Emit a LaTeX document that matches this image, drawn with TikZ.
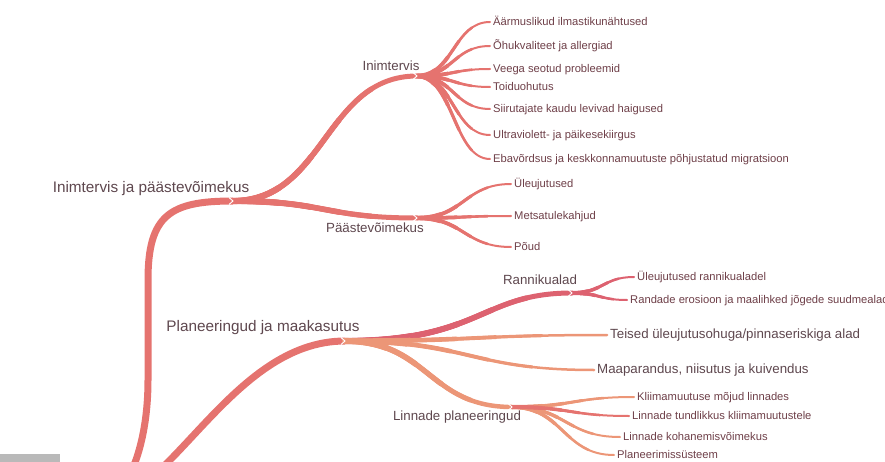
\documentclass[tikz,border=0pt]{standalone}
\usepackage{fontspec}
\setmainfont{Liberation Sans}
\usetikzlibrary{calc}
\definecolor{redA}{HTML}{E5736F}
\definecolor{redB}{HTML}{DD6270}
\definecolor{orA}{HTML}{EC9677}
\definecolor{txt}{HTML}{5E474E}
\definecolor{txtleaf}{HTML}{6E3F48}
% tapered branch: [frac]{colour}{from}{to}{start width}{end width}
\newcommand\tbr[6][0.5]{%
  \coordinate (tm) at ($(#3)!#1!(#4)$);
  \coordinate (tcA) at (tm |- #3);
  \coordinate (tcB) at (tm |- #4);
  \foreach \tq in {1,0.8,0.6,0.4,0.2}{%
    \pgfmathsetmacro\ww{#6+(#5-#6)*(1-\tq)}%
    \coordinate (ta) at ($(#3)!\tq!(tcA)$);
    \coordinate (tb) at ($(tcA)!\tq!(tcB)$);
    \coordinate (tcc) at ($(tcB)!\tq!(#4)$);
    \coordinate (td) at ($(ta)!\tq!(tb)$);
    \coordinate (te) at ($(tb)!\tq!(tcc)$);
    \coordinate (tf) at ($(td)!\tq!(te)$);
    \draw[#2, line width=\ww pt, line cap=round] (#3) .. controls (ta) and (td) .. (tf);
  }}
\begin{document}
\begin{tikzpicture}[x=1pt,y=-1pt,
  tone/.style={font=\fontsize{15.3}{18}\selectfont, text=txt},
  ttwo/.style={font=\fontsize{13.3}{16}\selectfont, text=txt},
  tthree/.style={font=\fontsize{11.2}{13}\selectfont, text=txtleaf},
  lbl/.style={anchor=center, inner sep=0pt, text height=0.72em, text depth=0pt},
  leaf/.style={anchor=west, inner sep=3pt, text height=0.72em, text depth=0pt},
  notch/.style={white, line width=0.9pt}]
\useasboundingbox (0,0) rectangle (885,462);
\clip (0,0) rectangle (885,462);

% junctions
\coordinate (root) at (92,508);
\coordinate (jA) at (233,201);
\coordinate (jB) at (417,76);
\coordinate (jC) at (417,218);
\coordinate (jD) at (345,341);
\coordinate (jE) at (572,293);
\coordinate (jF) at (512,407);

% labels
\node[tone, lbl] (n1) at (151,189) {Inimtervis ja päästevõimekus};
\node[ttwo, lbl] (n11) at (391,67) {Inimtervis};
\node[ttwo, lbl] (n12) at (375,229) {Päästevõimekus};
\node[tone, lbl] (n2) at (263,328) {Planeeringud ja maakasutus};
\node[ttwo, lbl] (n21) at (540,281) {Rannikualad};
\node[ttwo, lbl] (n24) at (457,417) {Linnade planeeringud};

% leaves
\node[tthree, leaf] (a1) at (490,22) {Äärmuslikud ilmastikunähtused};
\node[tthree, leaf] (a2) at (490,46) {Õhukvaliteet ja allergiad};
\node[tthree, leaf] (a3) at (490,69) {Veega seotud probleemid};
\node[tthree, leaf] (a4) at (490,87) {Toiduohutus};
\node[tthree, leaf] (a5) at (490,109) {Siirutajate kaudu levivad haigused};
\node[tthree, leaf] (a6) at (490,135) {Ultraviolett- ja päikesekiirgus};
\node[tthree, leaf] (a7) at (490,159) {Ebavõrdsus ja keskkonnamuutuste põhjustatud migratsioon};
\node[tthree, leaf] (b1) at (511,184) {Üleujutused};
\node[tthree, leaf] (b2) at (511,216) {Metsatulekahjud};
\node[tthree, leaf] (b3) at (511,247) {Põud};
\node[tthree, leaf] (c1) at (634,277) {Üleujutused rannikualadel};
\node[tthree, leaf] (c2) at (627,300) {Randade erosioon ja maalihked jõgede suudmealadel};
\node[ttwo, leaf] (d1) at (607,335) {Teised üleujutusohuga/pinnaseriskiga alad};
\node[ttwo, leaf] (d2) at (594,370) {Maaparandus, niisutus ja kuivendus};
\node[tthree, leaf] (e1) at (634,397) {Kliimamuutuse mõjud linnades};
\node[tthree, leaf] (e2) at (629,416) {Linnade tundlikkus kliimamuutustele};
\node[tthree, leaf] (e3) at (620,437) {Linnade kohanemisvõimekus};
\node[tthree, leaf] (e4) at (614,455) {Planeerimissüsteem};

% main branches from the root
\draw[redA, line width=7pt] (root) .. controls (125,505) and (148,450) .. (148,380)
  -- (148,280) .. controls (148,215) and (170,201) .. (jA);
\draw[redA, line width=7pt] (root) .. controls (170,505) and (230,341) .. (jD);

% second level
\tbr{redA}{jA}{jB}{6.5}{5}
\tbr{redA}{jA}{jC}{6.5}{5}
\tbr[0.6]{redB}{jD}{jE}{6.5}{5}
\tbr{orA}{jD}{d1.west}{6}{2.5}
\tbr{orA}{jD}{d2.west}{6}{2.5}
\tbr{orA}{jD}{jF}{6.5}{4.5}

% leaves
\foreach \k in {a1,a2,a3,a4,a5,a6,a7}{\tbr{redA}{jB}{\k.west}{5}{2}}
\foreach \k in {b1,b2,b3}{\tbr{redA}{jC}{\k.west}{5}{2}}
\foreach \k in {c1,c2}{\tbr{redB}{jE}{\k.west}{4.5}{2}}
\foreach \k in {e1,e3,e4}{\tbr{orA}{jF}{\k.west}{4.5}{2}}
\tbr{redA}{jF}{e2.west}{4.5}{2}

% junction notches
\foreach \j in {jA,jB,jC,jD,jE,jF}{
  \draw[notch] ($(\j)+(-4,-3.5)$) -- (\j) -- ($(\j)+(-4,3.5)$);
}

% UI remnant bottom left
\fill[gray!55] (0,454) rectangle (60,462);
\end{tikzpicture}
\end{document}
